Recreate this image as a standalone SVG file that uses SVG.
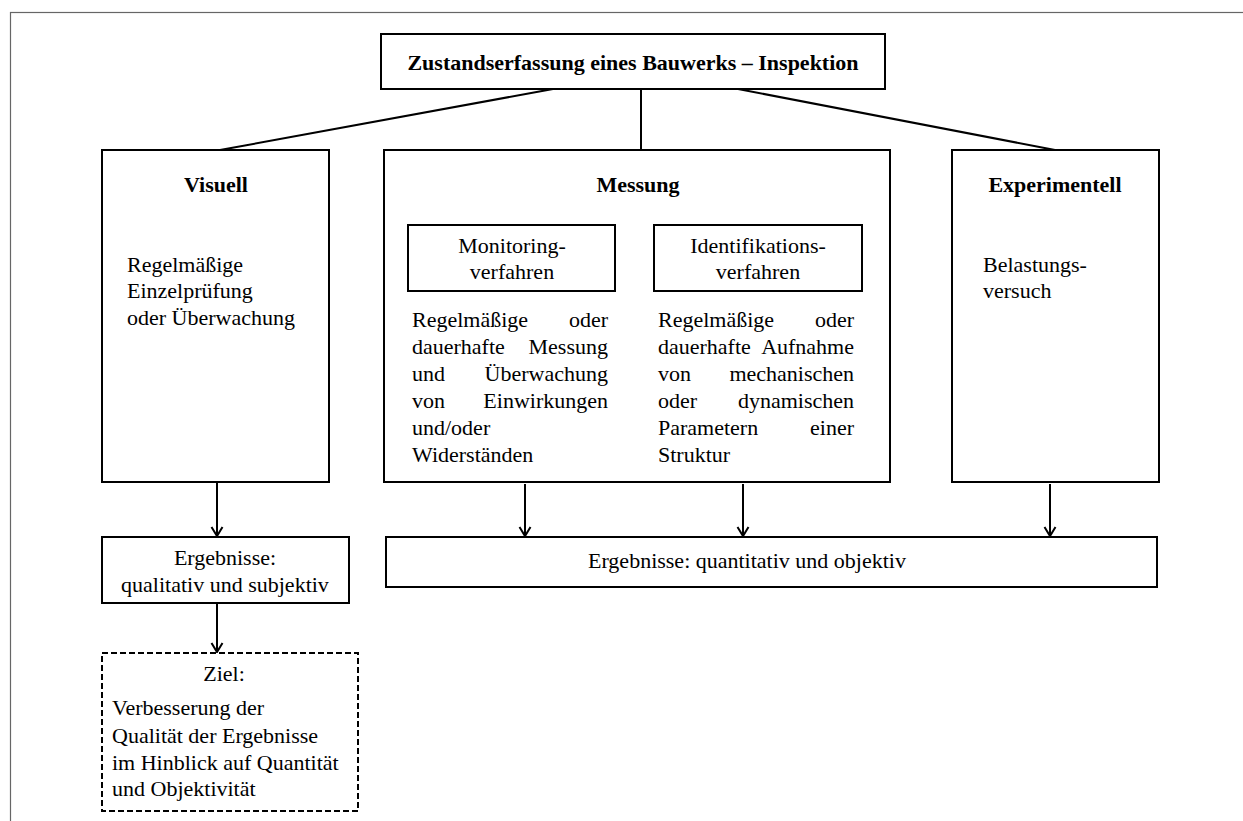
<svg xmlns="http://www.w3.org/2000/svg" width="1243" height="821" viewBox="0 0 1243 821">
<defs>
<style>
.box{fill:#fff;stroke:#000;stroke-width:2}
.dash{fill:#fff;stroke:#000;stroke-width:2;stroke-dasharray:6 3}
.t{font-family:"Liberation Serif","Times New Roman",serif;font-size:22px;fill:#000}
.b{font-family:"Liberation Serif","Times New Roman",serif;font-size:22px;font-weight:bold;fill:#000}
.c{text-anchor:middle}
.e{text-anchor:end}
.ln{stroke:#000;stroke-width:2;fill:none}
</style>
<marker id="arr" markerUnits="userSpaceOnUse" markerWidth="16" markerHeight="14" refX="12" refY="7" orient="auto" viewBox="0 0 16 14">
<path d="M3,1.5 L12,7 L3,12.5" fill="none" stroke="#000" stroke-width="2"/>
</marker>
</defs>
<rect width="1243" height="821" fill="#fff"/>
<rect x="10.5" y="12.5" width="1245" height="820" fill="none" stroke="#666" stroke-width="1.2"/>

<g id="connectors">
<line class="ln" x1="553" y1="89" x2="220" y2="150"/>
<line class="ln" x1="641" y1="89" x2="641" y2="150"/>
<line class="ln" x1="738" y1="89" x2="1055" y2="150"/>
<line class="ln" x1="613" y1="201" x2="512" y2="225"/>
<line class="ln" x1="655" y1="201" x2="758" y2="225"/>
<line class="ln" x1="217" y1="482" x2="217" y2="536" marker-end="url(#arr)"/>
<line class="ln" x1="525" y1="484" x2="525" y2="536" marker-end="url(#arr)"/>
<line class="ln" x1="743" y1="484" x2="743" y2="536" marker-end="url(#arr)"/>
<line class="ln" x1="1050" y1="484" x2="1050" y2="536" marker-end="url(#arr)"/>
<line class="ln" x1="217" y1="603" x2="217" y2="652" marker-end="url(#arr)"/>
</g>

<g id="top">
<rect class="box" x="381" y="34" width="504" height="55"/>
<text class="b c" x="633" y="70">Zustandserfassung eines Bauwerks – Inspektion</text>
</g>

<g id="visuell">
<rect class="box" x="102" y="150" width="227" height="332"/>
<text class="b c" x="216" y="192">Visuell</text>
<text class="t" x="127" y="272">Regelmäßige</text>
<text class="t" x="127" y="298">Einzelprüfung</text>
<text class="t" x="127" y="325">oder Überwachung</text>
</g>

<g id="messung">
<rect class="box" x="384" y="150" width="506" height="332"/>
<text class="b c" x="638" y="192">Messung</text>
<text class="t" x="412" y="327">Regelmäßige</text><text class="t e" x="608" y="327">oder</text>
<text class="t" x="412" y="354">dauerhafte</text><text class="t e" x="608" y="354">Messung</text>
<text class="t" x="412" y="381">und</text><text class="t e" x="608" y="381">Überwachung</text>
<text class="t" x="412" y="408">von</text><text class="t e" x="608" y="408">Einwirkungen</text>
<text class="t" x="412" y="435">und/oder</text>
<text class="t" x="412" y="462">Widerständen</text>
<text class="t" x="658" y="327">Regelmäßige</text><text class="t e" x="854" y="327">oder</text>
<text class="t" x="658" y="354">dauerhafte</text><text class="t e" x="854" y="354">Aufnahme</text>
<text class="t" x="658" y="381">von</text><text class="t e" x="854" y="381">mechanischen</text>
<text class="t" x="658" y="408">oder</text><text class="t e" x="854" y="408">dynamischen</text>
<text class="t" x="658" y="435">Parametern</text><text class="t e" x="854" y="435">einer</text>
<text class="t" x="658" y="462">Struktur</text>
</g>

<g id="monitoring">
<rect class="box" x="408" y="225" width="207" height="66"/>
<text class="t c" x="512" y="253">Monitoring-</text>
<text class="t c" x="512" y="279">verfahren</text>
</g>

<g id="identifikation">
<rect class="box" x="654" y="225" width="208" height="66"/>
<text class="t c" x="758" y="253">Identifikations-</text>
<text class="t c" x="758" y="279">verfahren</text>
</g>

<g id="experimentell">
<rect class="box" x="952" y="150" width="207" height="332"/>
<text class="b c" x="1055" y="192">Experimentell</text>
<text class="t" x="983" y="272">Belastungs-</text>
<text class="t" x="983" y="298">versuch</text>
</g>

<g id="ergebnisse-links">
<rect class="box" x="102" y="537" width="247" height="66"/>
<text class="t c" x="225" y="565">Ergebnisse:</text>
<text class="t c" x="225" y="592">qualitativ und subjektiv</text>
</g>

<g id="ergebnisse-rechts">
<rect class="box" x="386" y="537" width="771" height="50"/>
<text class="t" x="588" y="568">Ergebnisse:  quantitativ und objektiv</text>
</g>

<g id="ziel">
<rect class="dash" x="102" y="653" width="256" height="158"/>
<text class="t c" x="224" y="681">Ziel:</text>
<text class="t" x="112" y="715">Verbesserung der</text>
<text class="t" x="112" y="743">Qualität der Ergebnisse</text>
<text class="t" x="112" y="770">im Hinblick auf Quantität</text>
<text class="t" x="112" y="796">und Objektivität</text>
</g>
</svg>
